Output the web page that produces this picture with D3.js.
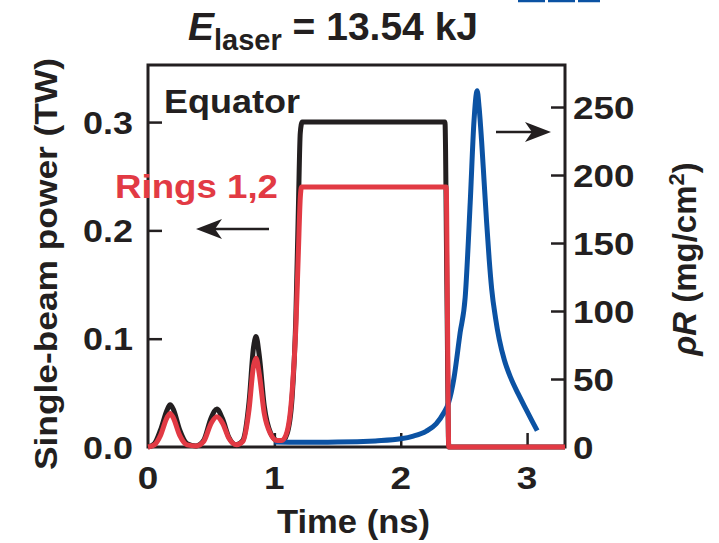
<!DOCTYPE html>
<html>
<head>
<meta charset="utf-8">
<script src="https://cdn.jsdelivr.net/npm/d3@7"></script>
<style>
  body { margin: 0; background: #fff; }
  svg { display: block; font-family: "Liberation Sans", Arial, sans-serif; font-weight: bold; }
</style>
</head>
<body>
<svg id="chart" width="719" height="543"></svg>
<script>
// equator beams, single-beam power (TW) vs time (ns)
var tEq = [0, 0.05, 0.10, 0.15, 0.175, 0.20, 0.25, 0.31, 0.38, 0.44, 0.50, 0.545, 0.59, 0.64, 0.70, 0.75, 0.80, 0.835, 0.855, 0.88, 0.92, 0.97, 1.02, 1.06, 1.10, 1.14, 1.17, 1.19, 1.205, 1.22, 2.35, 2.365, 2.38, 3.3]
var pEq = [0, 0.003, 0.016, 0.034, 0.039, 0.035, 0.016, 0.003, 0.001, 0.006, 0.027, 0.035, 0.026, 0.009, 0.002, 0.006, 0.042, 0.092, 0.102, 0.085, 0.038, 0.013, 0.006, 0.005, 0.012, 0.045, 0.12, 0.22, 0.29, 0.30, 0.30, 0.15, 0, 0]

// rings 1,2
var tRings = [0, 0.05, 0.10, 0.15, 0.175, 0.20, 0.25, 0.31, 0.38, 0.44, 0.50, 0.545, 0.59, 0.64, 0.70, 0.75, 0.80, 0.835, 0.855, 0.88, 0.92, 0.97, 1.02, 1.06, 1.10, 1.14, 1.17, 1.19, 1.205, 1.215, 2.36, 2.37, 2.38, 3.3]
var pRings = [0, 0.002, 0.011, 0.027, 0.031, 0.027, 0.011, 0.002, 0.001, 0.005, 0.022, 0.028, 0.022, 0.008, 0.002, 0.005, 0.035, 0.075, 0.082, 0.068, 0.031, 0.012, 0.006, 0.006, 0.014, 0.05, 0.11, 0.18, 0.23, 0.24, 0.24, 0.12, 0, 0]

// areal density rhoR (mg/cm2)
var tRho = [1.00, 1.20, 1.50, 1.80, 2.00, 2.10, 2.20, 2.28, 2.34, 2.38, 2.42, 2.47, 2.51, 2.55, 2.58, 2.605, 2.62, 2.64, 2.66, 2.68, 2.70, 2.72, 2.75, 2.78, 2.82, 2.87, 2.93, 2.99, 3.04, 3.08]
var rho = [3.7, 3.5, 3.6, 4.5, 6.0, 8.0, 11.5, 17, 25, 33, 50, 84, 110, 180, 240, 262, 250, 225, 195, 165, 138, 116, 95, 79, 64, 51, 39, 28, 19, 12]

var xTicks = [0, 1, 2, 3]
var yLeftTicks = [0, 0.1, 0.2, 0.3]
var yRightTicks = [0, 50, 100, 150, 200, 250]

var black = '#231f20', red = '#e23a44', blue = '#0b52a3'

var svg = d3.select('#chart')
var L = 148, R = 565, T = 65, B = 447

var x = d3.scaleLinear().domain([0, 3.3]).range([L, R])
var yL = d3.scaleLinear().domain([0, 0.3527]).range([B, T])
var yR = d3.scaleLinear().domain([0, 280.9]).range([B, T])

// the figure's font runs wider than Liberation, stretch labels a bit
function numLen(s) {
  s = String(s)
  return s.replace(/[^.]/g, '').length * 9 + s.replace(/\./g, '').length * 20.5
}

// frame
svg.append('rect')
  .attr('x', L).attr('y', T)
  .attr('width', R - L).attr('height', B - T)
  .attr('fill', 'none')
  .attr('stroke', black)
  .attr('stroke-width', 3)

// inward ticks via axes
svg.append('g')
  .attr('transform', 'translate(0,' + B + ')')
  .call(d3.axisTop(x).tickValues(xTicks.slice(1)).tickSize(14).tickFormat(''))
  .call(g => g.select('.domain').remove())
  .selectAll('line').attr('stroke', black).attr('stroke-width', 2.5)

svg.append('g')
  .attr('transform', 'translate(' + L + ',0)')
  .call(d3.axisRight(yL).tickValues(yLeftTicks.slice(1)).tickSize(14).tickFormat(''))
  .call(g => g.select('.domain').remove())
  .selectAll('line').attr('stroke', black).attr('stroke-width', 2.5)

svg.append('g')
  .attr('transform', 'translate(' + R + ',0)')
  .call(d3.axisLeft(yR).tickValues(yRightTicks.slice(1)).tickSize(14).tickFormat(''))
  .call(g => g.select('.domain').remove())
  .selectAll('line').attr('stroke', black).attr('stroke-width', 2.5)

// tick labels
svg.selectAll('.xl')
  .data(xTicks)
  .enter().append('text')
    .attr('x', d => x(d))
    .attr('y', 489)
    .attr('text-anchor', 'middle')
    .attr('font-size', 32)
    .attr('fill', black)
    .attr('textLength', d => numLen(d))
    .attr('lengthAdjust', 'spacingAndGlyphs')
    .text(d => d)

svg.selectAll('.yl')
  .data(yLeftTicks)
  .enter().append('text')
    .attr('x', 133)
    .attr('y', d => yL(d) + 11.5)
    .attr('text-anchor', 'end')
    .attr('font-size', 32)
    .attr('fill', black)
    .attr('textLength', d => numLen(d3.format('.1f')(d)))
    .attr('lengthAdjust', 'spacingAndGlyphs')
    .text(d => d3.format('.1f')(d))

svg.selectAll('.yr')
  .data(yRightTicks)
  .enter().append('text')
    .attr('x', 573)
    .attr('y', d => yR(d) + 11.5)
    .attr('font-size', 32)
    .attr('fill', black)
    .attr('textLength', d => numLen(d))
    .attr('lengthAdjust', 'spacingAndGlyphs')
    .text(d => d)

// curves
var line = d3.line().curve(d3.curveMonotoneX)

function pts(ts, vs, ys) {
  return ts.map((t, i) => [x(t), ys(vs[i])])
}

svg.append('path')
  .attr('d', line(pts(tEq, pEq, yL)))
  .attr('fill', 'none')
  .attr('stroke', black)
  .attr('stroke-width', 5)
  .attr('stroke-linejoin', 'round')

svg.append('path')
  .attr('d', line(pts(tRho, rho, yR)))
  .attr('fill', 'none')
  .attr('stroke', blue)
  .attr('stroke-width', 5)
  .attr('stroke-linejoin', 'round')

svg.append('path')
  .attr('d', line(pts(tRings, pRings, yL)))
  .attr('fill', 'none')
  .attr('stroke', red)
  .attr('stroke-width', 5)
  .attr('stroke-linejoin', 'round')

// arrows
function arrow(x1, x2, y) {
  var dir = x2 > x1 ? 1 : -1
  svg.append('line')
    .attr('x1', x1).attr('y1', y)
    .attr('x2', x2 - dir * 12).attr('y2', y)
    .attr('stroke', black)
    .attr('stroke-width', 2.5)
  svg.append('path')
    .attr('d', 'M' + x2 + ',' + y +
      'L' + (x2 - dir * 26) + ',' + (y - 10) +
      'L' + (x2 - dir * 19) + ',' + y +
      'L' + (x2 - dir * 26) + ',' + (y + 10) + 'Z')
    .attr('fill', black)
}
arrow(269, 196, 229)
arrow(496, 551, 132)

// labels
svg.append('text')
  .attr('x', 164).attr('y', 113)
  .attr('font-size', 33)
  .attr('fill', black)
  .attr('textLength', 136)
  .attr('lengthAdjust', 'spacingAndGlyphs')
  .text('Equator')

svg.append('text')
  .attr('x', 115).attr('y', 198)
  .attr('font-size', 33)
  .attr('fill', red)
  .attr('textLength', 163)
  .attr('lengthAdjust', 'spacingAndGlyphs')
  .text('Rings 1,2')

// title
var title = svg.append('text')
  .attr('x', 188).attr('y', 40)
  .attr('font-size', 39)
  .attr('fill', black)
title.append('tspan').attr('font-style', 'italic').text('E')
title.append('tspan').attr('font-size', 29).attr('dy', 10).text('laser')
title.append('tspan').attr('dy', -10).text(' = 13.54 kJ')

// axis titles
svg.append('text')
  .attr('x', 277).attr('y', 533)
  .attr('font-size', 33)
  .attr('fill', black)
  .attr('textLength', 153)
  .attr('lengthAdjust', 'spacingAndGlyphs')
  .text('Time (ns)')

svg.append('text')
  .attr('transform', 'translate(57,470) rotate(-90)')
  .attr('font-size', 32)
  .attr('fill', black)
  .attr('textLength', 412)
  .attr('lengthAdjust', 'spacingAndGlyphs')
  .text('Single-beam power (TW)')

var rt = svg.append('text')
  .attr('transform', 'translate(696,259) rotate(-90)')
  .attr('text-anchor', 'middle')
  .attr('font-size', 33)
  .attr('fill', black)
rt.append('tspan').attr('font-style', 'italic').text('ρR')
rt.append('tspan').text(' (mg/cm')
rt.append('tspan').attr('font-size', 22).attr('dy', -12).text('2')
rt.append('tspan').attr('dy', 12).text(')')

// cropped blue marks at top edge
svg.selectAll('.crop')
  .data([[518, 545], [548, 575], [578, 600]])
  .enter().append('line')
    .attr('x1', d => d[0]).attr('x2', d => d[1])
    .attr('y1', 1).attr('y2', 1)
    .attr('stroke', blue).attr('stroke-width', 2.5)
</script>
</body>
</html>
